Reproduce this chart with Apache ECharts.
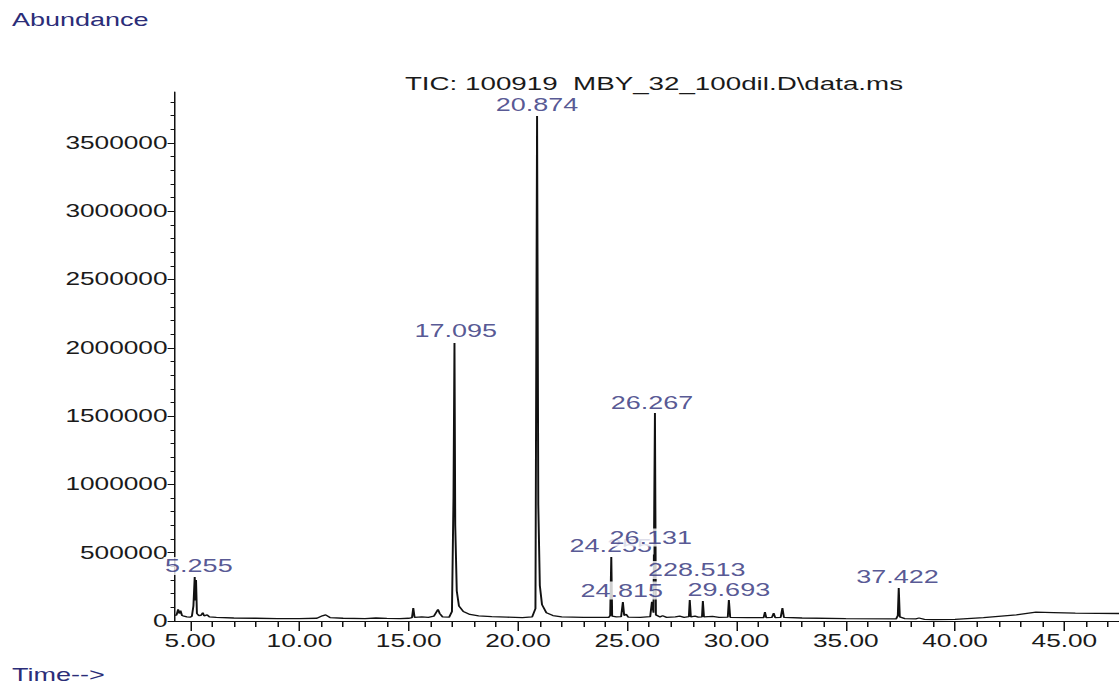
<!DOCTYPE html>
<html><head><meta charset="utf-8">
<script src="https://cdn.jsdelivr.net/npm/echarts@6/dist/echarts.min.js"></script>
<style>
html,body{margin:0;padding:0;background:#fff;overflow:hidden;width:1119px;height:684px}
#chart{width:746px;height:684px;transform:scaleX(1.5);transform-origin:0 0;}
</style></head><body><div id="chart"></div>
<script>
// ---- data ----
const traceTime = [4.31,4.38,4.45,4.50,4.56,4.63,4.72,4.85,5.00,5.08,5.15,5.21,5.24,5.27,5.31,5.40,5.50,5.58,5.64,5.78,5.88,6.20,7.00,8.00,9.00,10.00,10.80,11.05,11.20,11.40,12.00,13.00,13.50,14.00,14.60,15.00,15.15,15.21,15.27,15.60,15.90,16.15,16.34,16.42,16.55,16.85,16.98,17.05,17.095,17.13,17.20,17.30,17.50,17.80,18.20,18.80,19.50,20.20,20.65,20.80,20.874,20.93,21.00,21.10,21.30,21.60,22.00,23.00,24.15,24.22,24.27,24.31,24.50,24.72,24.80,24.86,24.95,25.05,25.60,26.05,26.13,26.20,26.267,26.31,26.50,26.62,26.80,27.20,27.40,27.60,27.82,27.86,27.91,28.10,28.25,28.42,28.46,28.51,28.90,29.20,29.60,29.65,29.71,30.50,31.24,31.30,31.36,31.62,31.70,31.77,32.02,32.10,32.17,33.00,35.00,37.30,37.38,37.422,37.47,37.70,38.20,38.35,38.60,39.00,40.00,41.30,42.80,43.70,44.50,45.50,46.50,47.50];
const traceAbundance = [40000,45000,85000,55000,75000,40000,35000,30000,28000,35000,110000,322000,150000,300000,55000,40000,42000,60000,38000,45000,30000,26000,22000,20000,18000,17000,20000,38000,45000,25000,20000,18000,22000,19000,17000,20000,24000,95000,26000,30000,26000,35000,85000,55000,30000,28000,70000,900000,2035000,700000,220000,110000,70000,48000,38000,32000,28000,25000,30000,90000,3697000,850000,260000,120000,60000,40000,30000,26000,26000,40000,468000,35000,30000,32000,139000,40000,50000,28000,27000,32000,140000,60000,1522000,45000,30000,38000,27000,30000,36000,27000,32000,154000,30000,36000,28000,30000,146000,30000,34000,27000,28000,154000,27000,24000,24000,66000,24000,26000,58000,25000,27000,95000,26000,22000,18000,15000,40000,241000,30000,18000,16000,22000,12000,10000,12000,25000,45000,65000,62000,58000,56000,55000];

const xMajorTicks = [5,10,15,20,25,30,35,40,45];
const xMinorTicks = [6,7,8,9,11,12,13,14,16,17,18,19,21,22,23,24,26,27,28,29,31,32,33,34,36,37,38,39,41,42,43,44,46,47];
const yMajorTicks = [0,500000,1000000,1500000,2000000,2500000,3000000,3500000];
const yMinorTicks = [100000,200000,300000,400000,600000,700000,800000,900000,1100000,1200000,1300000,1400000,1600000,1700000,1800000,1900000,2100000,2200000,2300000,2400000,2600000,2700000,2800000,2900000,3100000,3200000,3300000,3400000,3600000,3700000,3800000];

const peakLabels = ['5.255','17.095','20.874','24.255','26.131','26.267','228.513','24.815','29.693','37.422'];
const peakLabelTimes = [5.40,17.15,20.874,24.25,26.08,26.13,28.18,24.75,29.65,37.37];
const peakLabelLevels = [402000,2123000,3782000,552800,611400,1600000,373000,223000,227000,322000];

const titleText = 'TIC: 100919  MBY_32_100dil.D\\data.ms';

// ---- chart ----
const FONT = 'Liberation Sans, Arial, sans-serif';
const NAVY = '#2b2d78';
const xMin = 4.31, xMax = 47.5, yMin = 0, yMax = 3873000;

const chart = echarts.init(document.getElementById('chart'), null, {renderer: 'svg'});
chart.setOption({
  animation: false,
  backgroundColor: '#fff',
  title: {
    text: titleText, left: 431, top: 69, textAlign: 'center',
    textStyle: {fontSize: 18.5, fontWeight: 'normal', color: '#1a1a1a', fontFamily: FONT}
  },
  graphic: [
    {type: 'text', left: 8, top: 11, style: {text: 'Abundance', fill: NAVY, font: '18px ' + FONT}},
    {type: 'text', left: 8, top: 666, style: {text: 'Time-->', fill: NAVY, font: '18px ' + FONT}}
  ],
  grid: {left: 116.7, right: 0, top: 92, bottom: 63, containLabel: false},
  xAxis: [
    {
      type: 'value', min: xMin, max: xMax, position: 'bottom',
      axisLine: {show: true, onZero: false, lineStyle: {color: '#111', width: 1.2}},
      axisTick: {show: true, length: 10, customValues: xMajorTicks, lineStyle: {color: '#111', width: 1}},
      axisLabel: {show: true, customValues: xMajorTicks, margin: 11, color: '#1a1a1a', fontSize: 17.5, fontFamily: FONT,
        formatter: v => v.toFixed(2)},
      splitLine: {show: false}
    },
    {
      type: 'value', min: xMin, max: xMax, position: 'bottom',
      axisLine: {show: false},
      axisTick: {show: true, length: 6, customValues: xMinorTicks, lineStyle: {color: '#111', width: 1}},
      axisLabel: {show: false},
      splitLine: {show: false}
    }
  ],
  yAxis: [
    {
      type: 'value', min: yMin, max: yMax, position: 'left',
      axisLine: {show: true, onZero: false, lineStyle: {color: '#111', width: 1}},
      axisTick: {show: true, length: 5, customValues: yMajorTicks, lineStyle: {color: '#111', width: 1}},
      axisLabel: {show: true, customValues: yMajorTicks, margin: 5, color: '#1a1a1a', fontSize: 17.5, fontFamily: FONT,
        formatter: v => String(v)},
      splitLine: {show: false}
    },
    {
      type: 'value', min: yMin, max: yMax, position: 'left',
      axisLine: {show: false},
      axisTick: {show: true, length: 3, customValues: yMinorTicks, lineStyle: {color: '#111', width: 1}},
      axisLabel: {show: false},
      splitLine: {show: false}
    }
  ],
  series: [
    {
      type: 'line', xAxisIndex: 0, yAxisIndex: 0, symbol: 'none', z: 2,
      data: traceTime.map((t, i) => [t, traceAbundance[i]]),
      lineStyle: {color: '#111', width: 1.3},
      emphasis: {disabled: true}
    },
    {
      type: 'scatter', xAxisIndex: 0, yAxisIndex: 0, symbolSize: 0, z: 5,
      data: peakLabels.map((s, i) => ({name: s, value: [peakLabelTimes[i], peakLabelLevels[i]]})),
      label: {show: true, position: 'inside', formatter: p => p.name, color: NAVY, fontSize: 18, fontFamily: FONT,
        backgroundColor: '#fff', padding: [0, 1]},
      labelLayout: {hideOverlap: false},
      emphasis: {disabled: true}
    }
  ]
});
</script></body></html>
